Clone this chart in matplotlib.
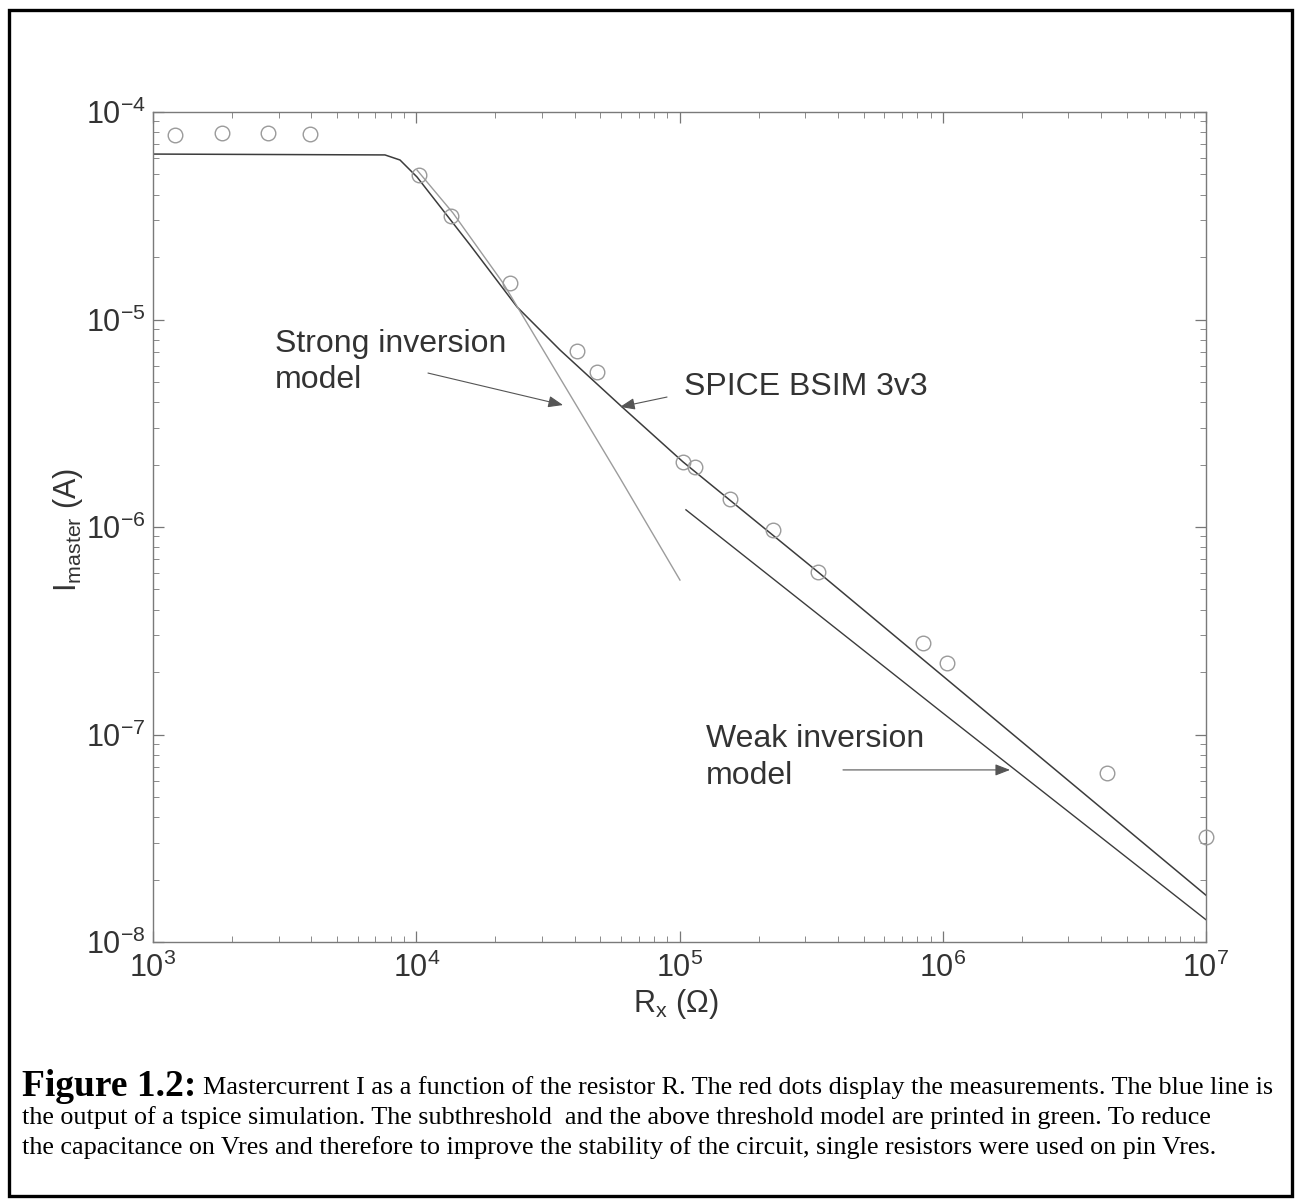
import matplotlib
matplotlib.use('Agg')
import matplotlib.pyplot as plt
import numpy as np
from matplotlib.patches import Rectangle
from matplotlib.ticker import LogLocator, NullFormatter

plt.rcParams['font.family'] = ['Liberation Sans', 'DejaVu Sans']
plt.rcParams['mathtext.default'] = 'regular'
plt.rcParams['axes.unicode_minus'] = False

# ---------------- data ----------------
meas_r = [1212, 1828, 2735, 3948, 10240, 13550, 22710, 40800, 48600, 103100,
          114600, 155500, 226600, 335800, 841000, 1.038e6, 4.21e6, 1.0e7]
meas_i = [7.75e-5, 7.92e-5, 7.92e-5, 7.83e-5, 4.97e-5, 3.16e-5, 1.50e-5, 7.05e-6,
          5.58e-6, 2.06e-6, 1.95e-6, 1.36e-6, 9.67e-7, 6.07e-7, 2.76e-7, 2.21e-7,
          6.52e-8, 3.21e-8]

spice_r = [1000, 7607, 8676, 10070, 16000, 24140, 35160, 60480, 103100, 335800, 1.0e7]
spice_i = [6.27e-5, 6.21e-5, 5.87e-5, 4.86e-5, 2.29e-5, 1.15e-5, 7.13e-6, 3.79e-6,
           2.06e-6, 6.07e-7, 1.68e-8]

strong_r = [10070, 13790, 21360, 34250, 59430, 100400]
strong_i = [5.25e-5, 3.26e-5, 1.50e-5, 5.52e-6, 1.72e-6, 5.55e-7]

weak_r = [105800, 1.0e6, 1.0e7]
weak_i = [1.21e-6, 1.27e-7, 1.28e-8]

xlabel = r'R$_{x}$ ($\Omega$)'
ylabel = r'I$_{master}$ (A)'
caption_bold = 'Figure 1.2:'
caption_lines = [
    'Mastercurrent I as a function of the resistor R. The red dots display the measurements. The blue line is',
    'the output of a tspice simulation. The subthreshold  and the above threshold model are printed in green. To reduce',
    'the capacitance on Vres and therefore to improve the stability of the circuit, single resistors were used on pin Vres.',
]

# ---------------- figure ----------------
W, H = 1298, 1202
fig = plt.figure(figsize=(W / 100, H / 100), dpi=100)
fig.patch.set_facecolor('white')

ax = fig.add_axes([153 / W, 1 - 942 / H, (1206 - 153) / W, (942 - 112) / H])
ax.set_xscale('log')
ax.set_yscale('log')
ax.set_xlim(1e3, 1e7)
ax.set_ylim(1e-8, 1e-4)

ax.plot(spice_r, spice_i, color='#3c3c3c', lw=1.1)
ax.plot(strong_r, strong_i, color='#9c9c9c', lw=1.0)
ax.plot(weak_r, weak_i, color='#3c3c3c', lw=1.0)
ax.plot(meas_r, meas_i, 'o', mfc='none', mec='#9a9a9a', ms=10.5, mew=1.0,
        clip_on=False, zorder=3)

ax.xaxis.set_major_locator(LogLocator(base=10, numticks=10))
ax.yaxis.set_major_locator(LogLocator(base=10, numticks=10))
ax.xaxis.set_minor_locator(LogLocator(base=10, subs=np.arange(2, 10), numticks=20))
ax.yaxis.set_minor_locator(LogLocator(base=10, subs=np.arange(2, 10), numticks=20))
ax.xaxis.set_minor_formatter(NullFormatter())
ax.yaxis.set_minor_formatter(NullFormatter())

ax.tick_params(which='both', direction='in', top=True, right=True,
               color='#777777', labelcolor='#333333', labelsize=22)
ax.tick_params(which='major', length=8, width=0.9)
ax.tick_params(axis='y', which='major', pad=5)
ax.tick_params(axis='x', which='major', pad=8)
ax.tick_params(which='minor', length=4, width=0.6)
for s in ax.spines.values():
    s.set_color('#7a7a7a')
    s.set_linewidth(1.0)

# annotations
ann_kw = dict(arrowstyle='-|>,head_length=0.9,head_width=0.35', color='#555555',
              lw=0.8, shrinkA=0, shrinkB=0)
txt_kw = dict(fontsize=23, color='#333333', linespacing=1.3)

ax.text(2907, 6.24e-6, 'Strong inversion\nmodel', ha='left', va='center', **txt_kw)
ax.annotate('', xy=(36110, 3.87e-6), xytext=(11080, 5.52e-6), arrowprops=ann_kw)

ax.text(104000, 4.73e-6, 'SPICE BSIM 3v3', ha='left', va='center', **txt_kw)
ax.annotate('', xy=(59430, 3.79e-6), xytext=(89660, 4.23e-6), arrowprops=ann_kw)

ax.text(126100, 7.71e-8, 'Weak inversion\nmodel', ha='left', va='center', **txt_kw)
ax.annotate('', xy=(1.801e6, 6.75e-8), xytext=(417800, 6.75e-8), arrowprops=ann_kw)

# axis labels
fig.text(676 / W, 1 - 987 / H, xlabel, ha='center', va='top', fontsize=22, color='#333333')
fig.text(68 / W, 1 - 530 / H, ylabel, ha='center', va='center', rotation=90,
         fontsize=22, color='#333333')

# frame
fig.add_artist(Rectangle((9 / W, 1 - 1196 / H), (1292 - 9) / W, (1196 - 10) / H,
                         transform=fig.transFigure, fill=False, lw=2.4,
                         edgecolor='black'))

# caption
serif = ['Liberation Serif', 'DejaVu Serif']
cap_kw = dict(ha='left', va='center', family=serif, color='black')
renderer = fig.canvas.get_renderer()
tb = fig.text(22 / W, 1 - 1086 / H, caption_bold, fontsize=27, fontweight='bold', **cap_kw)
x_rest = tb.get_window_extent(renderer=renderer).x1 + 7
fig.text(x_rest / W, 1 - 1088 / H, caption_lines[0], fontsize=18.8, **cap_kw)
fig.text(22 / W, 1 - 1118 / H, caption_lines[1], fontsize=18.8, **cap_kw)
fig.text(22 / W, 1 - 1148 / H, caption_lines[2], fontsize=18.8, **cap_kw)

fig.savefig('out.png', dpi=100, facecolor='white')
